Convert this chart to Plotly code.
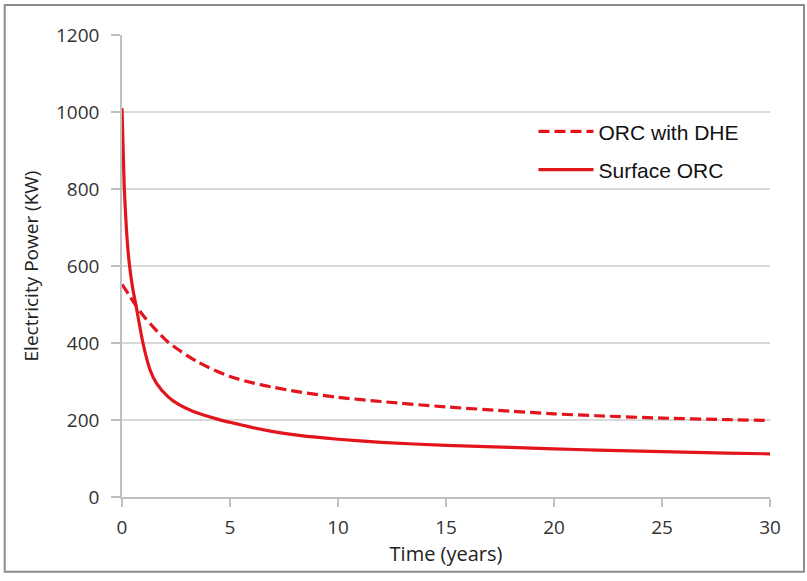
import plotly.graph_objects as go

# Data
t_dhe = [0, 0.3, 0.65, 1.0, 1.5, 2.1, 2.5, 3, 3.5, 4, 4.5, 5, 6, 7, 8.2, 10, 12, 15, 18, 20, 22, 25, 28, 30]
p_dhe = [552, 527, 497, 470, 438, 404, 387, 368, 351, 337, 324, 313, 297, 285, 273, 259, 248, 234, 223, 216, 211, 205, 201, 199]

t_surf = [0, 0.1, 0.2, 0.33, 0.5, 0.65, 0.97, 1.3, 1.6, 2.1, 2.6, 3.3, 4.5, 5, 6, 7, 8.2, 10, 12, 15, 18, 20, 22, 25, 28, 30]
p_surf = [1010, 810, 700, 610, 540, 497, 400, 330, 295, 262, 241, 222, 201, 194, 181, 170, 160, 150, 142, 134, 129, 125, 122, 118, 114, 112]

x_ticks = [0, 5, 10, 15, 20, 25, 30]
y_ticks = [0, 200, 400, 600, 800, 1000, 1200]

RED = "#e2141c"
GRID = "#d9d9d9"
AX = "#bfbfbf"
TICKFONT = dict(family="Open Sans", size=19, color="#333333")

fig = go.Figure()
fig.add_trace(go.Scatter(
    x=t_dhe, y=p_dhe, mode="lines", name="ORC with DHE",
    line=dict(color=RED, width=3.2, dash="11px,5px", shape="spline", smoothing=0.8),
    legendgroup="a",
))
fig.add_trace(go.Scatter(
    x=t_surf, y=p_surf, mode="lines", name="Surface ORC",
    line=dict(color=RED, width=3.2, shape="spline", smoothing=0.6),
    legendgroup="b",
))

fig.update_layout(
    width=807, height=581,
    margin=dict(l=122, r=37, t=35, b=84),
    paper_bgcolor="white", plot_bgcolor="white",
    showlegend=True,
    legend=dict(
        x=0.635, y=0.835, xanchor="left", yanchor="top",
        font=dict(family="Liberation Sans", size=21, color="#111111"),
        bgcolor="rgba(0,0,0,0)", traceorder="grouped", tracegroupgap=8,
        itemwidth=55,
    ),
    xaxis=dict(
        range=[0, 30], tickvals=x_ticks, ticktext=[str(v) for v in x_ticks],
        showgrid=False, zeroline=False, showline=True, linecolor=AX, linewidth=1.5,
        ticks="outside", ticklen=8, tickcolor=AX, tickwidth=1.5,
        tickfont=TICKFONT, ticklabelstandoff=4,
        title=dict(text="Time (years)", font=dict(family="Open Sans", size=20, color="#222222"), standoff=2),
    ),
    yaxis=dict(
        range=[0, 1200], tickvals=y_ticks, ticktext=[str(v) for v in y_ticks],
        showgrid=True, gridcolor=GRID, gridwidth=1.8, zeroline=False,
        showline=True, linecolor=AX, linewidth=1.5,
        ticks="outside", ticklen=9, tickcolor=AX, tickwidth=1.5,
        tickfont=TICKFONT, ticklabelstandoff=8,
        title=dict(text="Electricity Power (KW)", font=dict(family="Open Sans", size=19, color="#222222"), standoff=12),
    ),
    shapes=[dict(
        type="rect", xref="paper", yref="paper",
        x0=-0.181, x1=1.0525, y0=-0.162, y1=1.065,
        line=dict(color="#8c8c8c", width=2), fillcolor="rgba(0,0,0,0)", layer="below",
    )],
)

fig.write_html("out.html", config={"displayModeBar": False},
               post_script="document.body.style.margin='0px';")
